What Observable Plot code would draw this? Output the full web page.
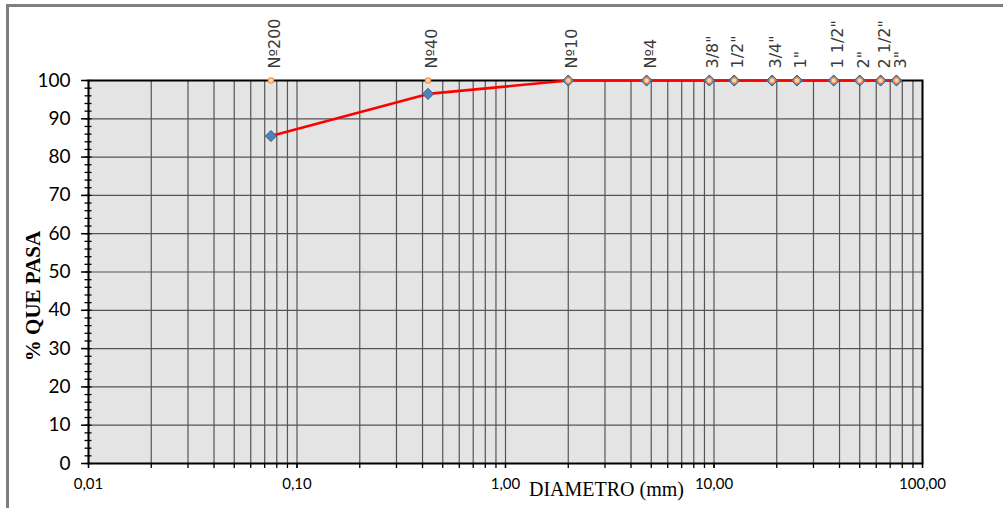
<!DOCTYPE html>
<html><head><meta charset="utf-8">
<script src="https://cdn.jsdelivr.net/npm/d3@7"></script>
<script src="https://cdn.jsdelivr.net/npm/@observablehq/plot@0.6"></script>
<style>
html,body{margin:0;padding:0;background:#fff;}
#wrap{position:relative;width:1003px;height:508px;overflow:hidden;}
#border{position:absolute;left:6px;top:4px;right:-10px;bottom:-10px;border-top:3px solid #7f7f7f;border-left:3px solid #7f7f7f;pointer-events:none;}
</style>
</head><body>
<div id="wrap"><div id="border"></div></div>
<script>
// ---- data ----
const sieves = ["Nº200", "Nº40", "Nº10", "Nº4", "3/8\"", "1/2\"", "3/4\"", "1\"", "1 1/2\"", "2\"", "2 1/2\"", "3\""];
const diameters = [0.075, 0.425, 2.0, 4.75, 9.5, 12.5, 19.0, 25.0, 37.5, 50.0, 63.0, 75.0];
const pasa = [85.5, 96.5, 100, 100, 100, 100, 100, 100, 100, 100, 100, 100];
const xTicks = [0.01, 0.1, 1, 10, 100];
const xTickLabels = ["0,01", "0,10", "1,00", "10,00", "100,00"];
const yTicks = [0, 10, 20, 30, 40, 50, 60, 70, 80, 90, 100];

// grid positions (log decades)
const xGrid = [];
for (let e = -2; e <= 1; e++) for (let m = 1; m <= 9; m++) xGrid.push(+(m * Math.pow(10, e)).toPrecision(3));
xGrid.push(100);
const yMinor = d3.range(0, 101, 2);

const points = diameters.map((d, i) => ({d, p: pasa[i], label: sieves[i]}));

const chart = Plot.plot({
  width: 1003,
  height: 508,
  marginLeft: 88,
  marginRight: 81,
  marginTop: 80,
  marginBottom: 45,
  style: {fontFamily: "Lato, sans-serif", background: "transparent", overflow: "visible"},
  x: {type: "log", domain: [0.01, 100]},
  y: {domain: [0, 100]},
  marks: [
    Plot.frame({fill: "#e4e4e4"}),
    Plot.ruleX(xGrid, {stroke: "#555", strokeWidth: 1.2}),
    Plot.ruleY(yTicks, {stroke: "#555", strokeWidth: 1.2}),
    Plot.frame({stroke: "#000", strokeWidth: 2}),
    Plot.axisX({ticks: xGrid, tickSize: 5, tickFormat: () => "", label: null, stroke: "#000", strokeWidth: 1.3}),
    Plot.axisX({ticks: xTicks, tickSize: 5, tickPadding: 10, tickFormat: (d) => xTickLabels[xTicks.indexOf(d)], label: null, fontSize: 15, fill: "#000", stroke: "#000", strokeWidth: 1.3}),
    Plot.axisY({ticks: yMinor, tickSize: 7, dx: 3.5, tickFormat: () => "", label: null, stroke: "#000", strokeWidth: 1.3}),
    Plot.axisY({ticks: yTicks, tickSize: 7, tickPadding: 11, label: null, fontSize: 19, fill: "#000", stroke: "#000", strokeWidth: 1.5}),
    Plot.line(points, {x: "d", y: "p", stroke: "#ff0000", strokeWidth: 2.6}),
    Plot.dot(points, {x: "d", y: "p", symbol: "diamond2", r: 5, fill: "#4f81bd", stroke: "#385d8a", strokeWidth: 1}),
    Plot.dot(points, {x: "d", y: () => 100, r: 2.6, fill: "#fcd5b4", stroke: "#f79646", strokeWidth: 1.3}),
    Plot.text(points, {x: "d", y: () => 100, text: "label", rotate: -90, textAnchor: "start", dy: -12, dx: 4, fontSize: 16, fill: "#3a3a3a", fontFamily: "'DejaVu Sans', sans-serif", letterSpacing: "0.3px"}),
    Plot.text(["% QUE PASA"], {frameAnchor: "left", textAnchor: "middle", rotate: -90, dx: -55, dy: 24, fontSize: 21, fontWeight: "bold", fontFamily: "'Liberation Serif', 'Times New Roman', serif", fill: "#000"}),
    Plot.text(["DIAMETRO (mm)"], {frameAnchor: "bottom", dx: 101, dy: 32, fontSize: 20, fontFamily: "'Liberation Serif', 'Times New Roman', serif", fill: "#000"})
  ]
});
document.getElementById("wrap").prepend(chart);
</script>
</body></html>
